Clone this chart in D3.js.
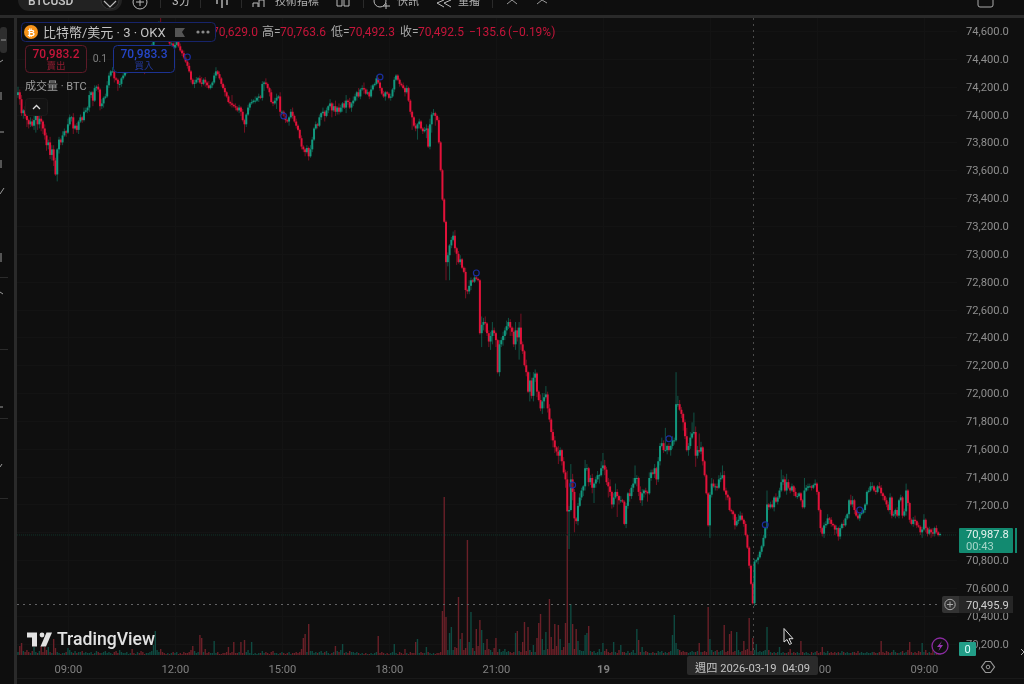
<!DOCTYPE html>
<html lang="zh-Hant"><head><meta charset="utf-8">
<script src="https://cdnjs.cloudflare.com/ajax/libs/d3/7.8.5/d3.min.js"></script>
<style>
html,body{margin:0;padding:0;background:#0f0f0f;overflow:hidden}
svg{display:block;filter:blur(.35px)}
text{font-family:Roboto,"Noto Sans CJK TC",sans-serif}
</style></head><body>
<svg id="c" width="1024" height="684"></svg>
<script>
// Three-minute closes, BTC / USD (one row = twenty bars)
const closes=[
74160,74110,74010,74030,73990,73960,73930,73950,73920,73960,74000,73930,73970,73950,73900,73850,73780,73800,73710,73750,
73670,73570,73750,73820,73800,73850,73880,73870,73930,73980,73980,73900,73920,73890,73950,73980,73960,74020,74030,74050,
74140,74160,74100,74190,74200,74180,74060,74080,74120,74130,74210,74280,74310,74310,74260,74250,74220,74220,74260,74280,
74310,74360,74410,74430,74390,74380,74420,74460,74410,74380,74340,74310,74360,74410,74460,74500,74540,74550,74610,74640,
74620,74590,74560,74540,74550,74510,74510,74480,74500,74520,74490,74460,74440,74410,74380,74350,74310,74250,74220,74230,
74250,74260,74230,74220,74250,74230,74210,74190,74210,74230,74280,74310,74290,74260,74220,74190,74160,74130,74090,74080,
74070,74060,74050,74030,74050,74020,73960,73930,74000,74050,74080,74090,74100,74100,74120,74130,74120,74220,74230,74220,
74190,74160,74090,74080,74100,74120,74130,74020,74020,73990,73960,73950,73980,74020,73990,73950,73920,73890,73830,73770,
73750,73730,73760,73700,73750,73820,73900,73930,73920,73980,74010,74020,73990,74030,74060,74080,74030,74060,74020,74050,
74020,74050,74080,74050,74100,74090,74050,74080,74100,74130,74160,74130,74180,74190,74180,74150,74160,74130,74180,74210,
74220,74260,74230,74190,74150,74130,74160,74150,74120,74130,74180,74250,74280,74250,74220,74210,74190,74160,74190,74100,
74020,73980,73920,73900,73930,73950,73900,73880,73890,73900,73770,73930,74000,74010,73990,73960,73800,73600,73390,73230,
72940,72990,73060,73100,73130,73040,73000,72940,72960,72900,72870,72740,72730,72770,72810,72800,72830,72820,72810,72430,
72490,72510,72500,72430,72370,72410,72450,72430,72380,72150,72350,72380,72410,72450,72480,72510,72470,72440,72350,72450,
72400,72470,72350,72300,72200,72150,72010,72090,71980,72110,72140,72010,71950,71890,71940,71970,71990,71890,71810,71720,
71660,71610,71580,71550,71590,71510,71430,71380,71150,71160,71380,71290,71100,71080,71190,71250,71300,71330,71460,71460,
71360,71390,71320,71350,71380,71410,71410,71460,71480,71450,71360,71330,71290,71200,71250,71290,71260,71230,71230,71220,
71060,71190,71280,71260,71320,71350,71390,71390,71290,71230,71280,71300,71290,71280,71390,71430,71420,71460,71380,71510,
71620,71640,71590,71590,71620,71590,71620,71660,71660,71920,71920,71880,71850,71790,71690,71590,71620,71680,71710,71720,
71550,71590,71580,71610,71510,71410,71280,71050,71270,71350,71330,71330,71320,71380,71390,71410,71300,71270,71250,71160,
71150,71130,71050,71080,71090,71120,71090,71060,70980,70890,70760,70630,70490,70790,70800,70820,70860,70900,70960,71030,
71200,71180,71200,71180,71250,71220,71250,71300,71360,71380,71300,71360,71320,71300,71330,71290,71260,71260,71280,71230,
71180,71300,71320,71330,71330,71320,71340,71350,71290,71160,71030,70990,71050,71060,71100,71090,71060,71050,71020,71030,
70970,71030,71060,71050,71100,71130,71230,71200,71230,71160,71120,71100,71130,71140,71160,71200,71290,71300,71330,71330,
71300,71290,71330,71320,71280,71260,71230,71200,71160,71250,71120,71130,71160,71120,71230,71250,71120,71150,71300,71210,
71090,71060,71090,71080,71050,71040,71000,71020,71090,71030,70990,71020,71000,70990,71030,71000,70980,70987.8];
const firstOpen=74140;
// Wick length above the candle body, USD
const highWicks=[
40,20,30,10,30,20,10,30,20,60,30,20,40,30,10,30,20,20,40,30,
30,20,10,20,10,30,20,10,40,20,10,30,10,20,10,20,10,30,20,10,
30,10,10,20,10,20,10,30,10,20,30,20,10,30,10,10,10,20,10,20,
20,10,30,20,10,20,30,20,10,20,10,20,30,10,20,10,20,30,10,30,
60,20,10,20,10,30,20,10,20,10,10,20,10,20,10,10,20,10,10,20,
20,10,20,40,10,20,10,30,10,10,20,30,10,20,10,10,20,10,10,10,
60,10,20,10,20,10,20,10,10,20,10,20,10,30,10,20,10,20,10,30,
10,10,20,10,20,30,10,30,10,10,20,10,10,20,30,10,20,10,10,20,
10,10,20,10,30,20,10,20,10,20,10,30,10,20,10,30,10,20,40,10,
30,20,10,20,40,10,30,10,30,20,10,30,10,20,40,10,20,10,30,10,
10,20,10,10,10,20,10,10,10,20,10,20,10,10,10,10,20,10,20,10,
10,10,10,20,10,20,10,10,20,30,20,40,20,30,10,10,20,10,10,10,
10,20,10,20,30,40,10,20,30,10,10,30,10,40,20,10,10,10,10,10,
60,30,40,10,20,30,60,20,10,10,30,20,30,20,40,30,20,10,30,60,
20,40,100,20,10,40,10,60,20,40,30,10,10,40,60,30,60,20,30,10,
20,30,10,40,20,10,30,20,60,30,110,40,20,10,20,30,20,10,60,30,
10,20,30,10,20,30,10,50,90,40,20,30,50,10,30,60,20,10,30,10,
10,20,10,30,20,40,90,20,10,40,30,10,20,10,40,20,20,30,10,30,
20,40,20,160,10,20,10,30,20,230,60,30,20,10,20,60,20,40,80,140,
40,30,120,40,10,10,10,10,20,40,30,20,20,30,40,70,30,20,30,10,
10,10,10,30,40,30,20,10,20,10,10,10,10,20,10,20,10,10,20,10,
100,10,20,30,10,30,10,20,90,30,20,60,20,10,20,10,30,20,10,10,
10,90,20,20,20,10,10,30,10,10,10,10,20,20,30,10,20,10,10,20,
10,20,10,30,20,10,10,40,30,10,10,20,10,20,10,10,10,20,30,30,
10,20,10,30,20,10,10,20,20,30,10,20,10,20,10,20,10,20,50,10,
10,10,20,30,10,20,10,20,40,10,10,20,10,30,10,20,10,10];
// Wick length below the candle body, USD
const lowWicks=[
20,40,20,40,20,50,30,20,10,30,90,40,30,70,40,30,40,30,30,40,
40,10,50,30,20,20,10,30,10,10,30,40,10,20,30,10,20,10,10,20,
30,20,40,10,20,20,30,20,30,10,10,20,10,10,30,10,50,30,20,10,
10,20,10,30,20,10,20,10,30,20,10,20,10,10,20,10,10,20,10,10,
10,20,10,20,10,20,10,30,10,20,10,10,20,10,10,20,10,20,10,30,
10,20,10,20,10,30,20,10,10,20,10,20,10,10,20,10,30,10,10,20,
20,10,20,10,20,30,10,60,20,10,20,10,10,20,10,30,10,20,50,10,
10,30,10,20,10,60,10,30,20,10,20,10,30,10,20,10,20,10,10,20,
20,30,10,30,10,20,10,10,20,10,20,10,40,10,20,10,50,10,30,20,
20,10,30,10,40,20,10,30,20,10,30,10,20,10,30,10,10,20,10,10,
10,10,10,20,10,10,30,10,10,20,10,20,10,10,20,10,10,30,10,10,
20,90,10,20,80,30,10,20,10,60,10,20,60,10,70,10,10,10,10,10,
130,30,180,20,10,30,80,10,20,10,10,60,20,20,30,10,10,10,10,10,
100,40,60,20,40,60,60,20,50,10,30,20,40,30,30,20,60,30,20,40,
30,160,40,20,10,30,10,70,20,40,30,40,10,20,40,50,10,30,20,60,
50,40,30,60,40,30,10,60,165,270,10,60,100,20,30,10,20,40,30,20,
30,20,40,110,30,20,60,10,20,40,20,80,30,30,20,10,150,30,20,10,
10,30,20,40,20,30,10,60,30,20,40,30,20,60,10,20,10,30,40,20,
30,10,20,10,30,10,40,20,30,10,20,10,30,60,20,10,40,20,10,10,
80,20,10,20,30,10,10,10,90,20,10,30,20,10,20,10,10,40,20,10,
20,40,30,10,20,10,10,20,10,10,20,10,10,20,10,30,10,20,10,10,
10,20,10,10,30,10,20,10,10,20,10,30,10,20,10,30,10,20,10,10,
10,10,10,20,10,20,10,10,20,10,30,20,30,20,10,30,20,10,40,30,
30,20,10,20,10,10,30,10,20,30,10,10,20,10,10,20,10,10,10,20,
10,20,10,10,20,30,10,20,10,30,20,10,30,10,20,10,20,10,30,20,
20,10,20,30,20,10,20,40,10,30,20,10,40,20,20,10,10,10];
// Volume per bar, BTC
const volumes=[
3,9,12,4,3,5,3,2,4,8,3,2,4,9,3,8,5,8,3,2,
16,7,3,2,1,2,2,3,7,5,3,2,4,2,3,3,4,2,3,2,
2,3,1,2,4,3,2,2,3,4,2,3,2,1,3,4,2,5,3,2,
2,3,1,2,6,2,1,3,2,4,3,1,2,2,3,4,10,24,5,3,
6,3,2,1,2,1,2,3,2,3,1,2,1,3,2,2,3,5,9,4,
2,3,20,17,3,6,2,3,2,2,14,2,3,1,1,2,2,3,8,2,
3,13,2,2,3,13,2,15,3,5,2,13,1,2,1,2,2,4,2,3,
2,1,3,4,2,2,1,2,3,2,1,2,3,1,2,2,3,2,3,6,
17,21,3,31,4,4,2,3,2,3,4,2,3,4,2,1,2,3,9,4,
3,5,11,2,3,2,4,3,3,2,3,2,1,2,1,2,1,1,2,1,
2,3,19,2,3,2,1,2,1,2,3,11,2,1,3,2,1,6,2,1,
3,2,2,13,16,2,3,2,2,8,3,2,1,2,1,2,2,3,44,158,
38,5,22,28,5,8,7,58,16,22,5,7,115,13,43,7,4,26,9,35,
25,12,5,16,6,5,3,7,17,3,6,3,4,6,3,4,3,2,3,22,
24,4,3,13,33,4,28,5,3,10,3,17,32,41,16,5,23,6,56,18,
6,31,9,30,16,5,8,32,120,12,51,31,6,26,14,5,4,4,20,22,
29,4,3,4,2,3,6,3,12,4,6,3,2,3,13,3,2,5,10,3,
3,2,4,2,3,5,2,26,15,3,8,3,4,3,2,2,3,2,2,4,
3,4,2,3,2,3,4,20,40,12,6,5,3,4,3,3,2,3,4,3,
3,4,12,3,3,4,3,48,16,5,3,4,5,3,4,5,30,3,4,21,
24,3,4,23,5,3,4,14,5,6,37,4,17,5,11,3,4,3,4,5,
28,5,3,2,3,2,3,8,2,3,2,2,3,6,2,3,2,3,2,14,
3,2,3,2,1,3,2,3,4,2,3,8,3,2,4,2,3,2,3,2,
3,2,4,3,2,3,2,2,3,3,2,4,2,3,2,2,3,2,2,3,
3,2,2,3,14,3,2,4,3,2,3,5,3,2,2,3,4,2,3,5,
13,3,2,3,2,4,3,12,3,5,2,3,2,5,3,2,3,1];
// Marker circles: bar index and price
const markerBars=[95,149,203,257,311,365,419,472];
const markerPrices=[74414,73990,74270,72863,71340,71671,71054,71161];
// Axis labels
const priceTicks=[74600,74400,74200,74000,73800,73600,73400,73200,73000,72800,72600,72400,72200,72000,71800,71600,71400,71200,71000,70800,70600,70400,70200];
const timeTickBars=[28,88,148,208,268,328,388,448,508];
const timeTickLabels=["09:00","12:00","15:00","18:00","21:00","19","03:00","06:00","09:00"];
const lastPrice=70987.8, crossPrice=70486, crossBar=412;

const BG="#0f0f0f",UP="#12987e",DOWN="#e2123a",VUP="#0f4a41",VDOWN="#6a2028";
const svg=d3.select("#c");
const x=d3.scaleLinear().domain([0,517]).range([18,940]);
const y=d3.scaleLinear().domain([70200,74600]).range([643.7,31]);
const yVol=d3.scaleLinear().domain([0,158]).range([655,497]);
const bars=closes.map((c,i)=>{const o=i?closes[i-1]:firstOpen;return{i,o,c,h:Math.max(o,c)+highWicks[i],l:Math.min(o,c)-lowWicks[i],v:volumes[i],up:c>=o}});

svg.append("rect").attr("width",1024).attr("height",684).attr("fill",BG);
const defs=svg.append("defs");
defs.append("clipPath").attr("id","pane").append("rect").attr("x",17).attr("y",18).attr("width",940).attr("height",637);

// grid
const grid=svg.append("g").attr("stroke","#131313").attr("stroke-width",1);
grid.selectAll(".h").data(priceTicks).join("line").attr("x1",17).attr("x2",957).attr("y1",d=>Math.round(y(d))+.5).attr("y2",d=>Math.round(y(d))+.5);
grid.selectAll(".v").data(timeTickBars).join("line").attr("y1",18).attr("y2",655).attr("x1",d=>Math.round(x(d))+.5).attr("x2",d=>Math.round(x(d))+.5);

const pane=svg.append("g").attr("clip-path","url(#pane)");
// volume
pane.append("g").selectAll("rect").data(bars).join("rect")
 .attr("x",d=>x(d.i)-.7).attr("width",1.4).attr("y",d=>yVol(d.v)).attr("height",d=>655-yVol(d.v))
 .attr("fill",d=>d.up?VUP:VDOWN);
// last price line
pane.append("line").attr("x1",17).attr("x2",957).attr("y1",y(lastPrice)+1).attr("y2",y(lastPrice)+1).attr("stroke","#10352b").attr("stroke-dasharray","1 1");
// wicks
pane.append("g").selectAll("line").data(bars).join("line")
 .attr("x1",d=>x(d.i)).attr("x2",d=>x(d.i)).attr("y1",d=>y(d.h)).attr("y2",d=>y(d.l))
 .attr("stroke",d=>d.up?UP:DOWN).attr("stroke-width",.9).attr("stroke-opacity",.55);
// bodies
pane.append("g").selectAll("rect").data(bars).join("rect")
 .attr("x",d=>x(d.i)-1).attr("width",2)
 .attr("y",d=>y(Math.max(d.o,d.c))).attr("height",d=>Math.max(1,Math.abs(y(d.o)-y(d.c))))
 .attr("fill",d=>d.up?UP:DOWN);
// markers
pane.append("g").selectAll("circle").data(markerBars).join("circle")
 .attr("cx",d=>x(d)).attr("cy",(d,i)=>y(markerPrices[i])).attr("r",2.9).attr("fill",BG).attr("fill-opacity",.4).attr("stroke","#1b2f9e").attr("stroke-width",1.2);

// crosshair
const cg=svg.append("g").attr("stroke","#626264").attr("stroke-dasharray","2 4").attr("stroke-width",1);
cg.append("line").attr("x1",17).attr("x2",941).attr("y1",Math.round(y(crossPrice))+.5).attr("y2",Math.round(y(crossPrice))+.5);
cg.append("line").attr("y1",18).attr("y2",655).attr("x1",Math.round(x(crossBar))+.5).attr("x2",Math.round(x(crossBar))+.5).attr("stroke","#4c4c4c");

// watermark logo
const logo=svg.append("g").attr("fill","#e2e2e2");
logo.append("path").attr("d","M27 632.5H37V646.5H32V637.5H27Z");
logo.append("circle").attr("cx",42).attr("cy",635).attr("r",2.4);
logo.append("path").attr("d","M46.5 632.5H52L46 646.5H40.5Z");
logo.append("text").attr("x",57).attr("y",645).attr("font-size",17.6).attr("font-weight",500).text("TradingView");

// right axis
const ax=svg.append("g").attr("transform","translate(957,0)").call(d3.axisRight(y).tickValues(priceTicks).tickSize(0).tickPadding(9).tickFormat(d3.format(",.1f")));
ax.select(".domain").remove();
ax.selectAll("text").attr("fill","#8e8e8e").attr("font-size",11.2).attr("font-family","Roboto,sans-serif");
// bottom axis
const bx=svg.append("g").attr("transform","translate(0,662)").call(d3.axisBottom(x).tickValues(timeTickBars).tickSize(0).tickPadding(3).tickFormat((d,i)=>timeTickLabels[i]));
bx.select(".domain").remove();
bx.selectAll("text").attr("fill","#808080").attr("font-size",11.2).attr("font-family","Roboto,sans-serif").attr("font-weight",(d,i)=>timeTickLabels[i]==="19"?700:400);

// frames around the pane
svg.append("rect").attr("x",0).attr("y",0).attr("width",1024).attr("height",15).attr("fill","#0e0e0e");
svg.append("rect").attr("x",0).attr("y",15).attr("width",1024).attr("height",3).attr("fill","#2a2a2a");
svg.append("rect").attr("x",0).attr("y",18).attr("width",14).attr("height",666).attr("fill","#0e0e0e");
svg.append("rect").attr("x",14).attr("y",18).attr("width",3).attr("height",666).attr("fill","#2a2a2a");
svg.append("rect").attr("x",17).attr("y",678).attr("width",1007).attr("height",1).attr("fill","#191919");
svg.append("rect").attr("x",0).attr("y",27).attr("width",7).attr("height",26).attr("rx",3).attr("fill","#2e2e2e");

// top toolbar
const tb=svg.append("g");
tb.append("rect").attr("x",18).attr("y",-14).attr("width",104).attr("height",25).attr("rx",11).attr("fill","#222");
tb.append("text").attr("x",28).attr("y",4.5).attr("font-size",12).attr("font-weight",500).attr("fill","#c8c8c8").text("BTCUSD");
tb.append("circle").attr("cx",110).attr("cy",0).attr("r",9).attr("fill","#151515").attr("stroke","#333");
tb.append("path").attr("d","M104 1L110 7L116 1").attr("fill","none").attr("stroke","#bbb").attr("stroke-width",1.2);
tb.append("circle").attr("cx",140).attr("cy",2).attr("r",7).attr("fill","none").attr("stroke","#bbb");
tb.append("path").attr("d","M140 -2V6M136 2H144").attr("stroke","#bbb");
tb.append("text").attr("x",172).attr("y",5).attr("font-size",12).attr("fill","#b8b8b8").text("3分");
tb.append("path").attr("d","M217 0V4M222 0V8M227 0V5").attr("stroke","#bbb").attr("stroke-width",1.4);
tb.append("path").attr("d","M253 7V3H258V7M259 7V0H264V7").attr("stroke","#bbb").attr("fill","none");
tb.append("text").attr("x",275).attr("y",5).attr("font-size",11).attr("fill","#b0b0b0").text("技術指標");
tb.append("path").attr("d","M337 0V6H342V0M344 0V6H349V0").attr("stroke","#bbb").attr("fill","none");
tb.append("circle").attr("cx",380).attr("cy",1).attr("r",6).attr("fill","none").attr("stroke","#bbb");
tb.append("path").attr("d","M386 3V9M383 6H390").attr("stroke","#bbb");
tb.append("text").attr("x",397).attr("y",5).attr("font-size",11).attr("fill","#b0b0b0").text("快訊");
tb.append("path").attr("d","M444 0L437 3L444 7M451 0L444 3L451 7").attr("stroke","#bbb").attr("fill","none");
tb.append("text").attr("x",458).attr("y",5).attr("font-size",11).attr("fill","#b0b0b0").text("重播");
["M507 4L512 0L517 4","M537 4L542 0L547 3"].forEach(d=>tb.append("path").attr("d",d).attr("stroke","#999").attr("fill","none"));
tb.selectAll("line.sep").data([160,200,241,363,492]).join("line").attr("x1",d=>d+.5).attr("x2",d=>d+.5).attr("y1",0).attr("y2",8).attr("stroke","#2a2a2a");
tb.append("rect").attr("x",978).attr("y",-6).attr("width",15).attr("height",13).attr("rx",2).attr("fill","none").attr("stroke","#aaa");
// left toolbar fragments
const lt=svg.append("g").attr("stroke","#9a9a9a").attr("fill","none");
["M1 40H6","M0 62L3 60","M1 92V100","M0 132H4","M1 160V168","M0 194L4 188","M1 253V262","M0 292L3 294","M0 407H3","M0 467L2 464"].forEach(d=>lt.append("path").attr("d",d));
lt.selectAll("line.s").data([277,349,418,498]).join("line").attr("x1",0).attr("x2",8).attr("y1",d=>d+.5).attr("y2",d=>d+.5).attr("stroke","#2b2b2b");

// OHLC legend
const red="#c5153a";
const lg=svg.append("g").attr("font-size",12);
[["開=",194,"#aaa"],["70,629.0",212,red],["高=",262,"#aaa"],["70,763.6",280,red],["低=",331,"#aaa"],["70,492.3",349,red],["收=",400,"#aaa"],["70,492.5",418,red],["−135.6",469,red],["(−0.19%)",508,red]]
 .forEach(([t,px,col])=>lg.append("text").attr("x",px).attr("y",36).attr("fill",col).text(t));
svg.append("rect").attr("x",21.5).attr("y",22.5).attr("width",194).attr("height",19).attr("rx",4).attr("fill",BG).attr("stroke","#17246a");
svg.append("circle").attr("cx",31).attr("cy",32).attr("r",7).attr("fill","#f7931a");
svg.append("text").attr("x",31).attr("y",35.5).attr("text-anchor","middle").attr("font-size",9.5).attr("font-weight",700).attr("fill","#fff").text("₿");
svg.append("text").attr("x",43).attr("y",37).attr("font-size",13).attr("fill","#c4c4c4").text("比特幣/美元 · 3 · OKX");
svg.append("path").attr("d","M175 28H185L182 32L185 37H175Z").attr("fill","#555");
svg.selectAll("circle.dot").data([198,203,208]).join("circle").attr("cx",d=>d).attr("cy",32).attr("r",1.6).attr("fill","#8a8a8a");
// sell / buy
svg.append("rect").attr("x",25.5).attr("y",45.5).attr("width",61).attr("height",27).attr("rx",4).attr("fill",BG).attr("stroke","#5e1a28");
svg.append("text").attr("x",56).attr("y",58).attr("text-anchor","middle").attr("font-size",12).attr("font-weight",500).attr("fill","#c5153a").text("70,983.2");
svg.append("text").attr("x",56).attr("y",69).attr("text-anchor","middle").attr("font-size",9.5).attr("fill","#8e1c30").text("賣出");
svg.append("text").attr("x",100).attr("y",62).attr("text-anchor","middle").attr("font-size",10.5).attr("fill","#7e7e7e").text("0.1");
svg.append("rect").attr("x",113.5).attr("y",45.5).attr("width",61).attr("height",27).attr("rx",4).attr("fill",BG).attr("stroke","#1c3292");
svg.append("text").attr("x",144).attr("y",58).attr("text-anchor","middle").attr("font-size",12).attr("font-weight",500).attr("fill","#2546c8").text("70,983.3");
svg.append("text").attr("x",144).attr("y",69).attr("text-anchor","middle").attr("font-size",9.5).attr("fill","#23399c").text("買入");
svg.append("text").attr("x",25).attr("y",90).attr("font-size",11).attr("fill","#9e9e9e").text("成交量 · BTC");
svg.append("rect").attr("x",25.5).attr("y",98.5).attr("width",22).attr("height",17).attr("rx",3).attr("fill","#131313").attr("stroke","#1c1c1c");
svg.append("path").attr("d","M33 109L36.5 105.500L40 109").attr("fill","none").attr("stroke","#ddd").attr("stroke-width",1.3);

// last price tag
svg.append("rect").attr("x",959).attr("y",528).attr("width",54).attr("height",25).attr("rx",1).attr("fill","#128a70");
svg.append("rect").attr("x",1015).attr("y",528).attr("width",2).attr("height",25).attr("fill","#128a70");
svg.append("text").attr("x",966).attr("y",538).attr("font-size",11.2).attr("fill","#e4f2ee").text("70,987.8");
svg.append("text").attr("x",966).attr("y",550).attr("font-size",11.2).attr("fill","#a5d6c9").text("00:43");
// crosshair price tag
svg.append("rect").attr("x",942).attr("y",596).attr("width",71).attr("height",17).attr("rx",2).attr("fill","#333");
svg.append("rect").attr("x",959).attr("y",596).attr("width",54).attr("height",17).attr("fill","#262626");
svg.append("circle").attr("cx",950).attr("cy",604.5).attr("r",5.2).attr("fill","none").attr("stroke","#aaa");
svg.append("path").attr("d","M950 601.5V607.500M947 604.5H953").attr("stroke","#aaa");
svg.append("text").attr("x",966).attr("y",608.5).attr("font-size",11.2).attr("fill","#cfcfcf").text("70,495.9");
// zero volume tag, bolt
svg.append("rect").attr("x",959).attr("y",642).attr("width",17).attr("height",14).attr("rx",1).attr("fill","#229e88");
svg.append("text").attr("x",967.5).attr("y",653).attr("text-anchor","middle").attr("font-size",11).attr("fill","#dff").text("0");
svg.append("circle").attr("cx",940).attr("cy",646).attr("r",8).attr("fill",BG).attr("stroke","#8a2ba0").attr("stroke-width",1.3);
svg.append("path").attr("d","M942 641L937 647H940L938.500 651L943 645H940Z").attr("fill","#9a36b4");
// date tag
svg.append("rect").attr("x",687).attr("y",656).attr("width",131).attr("height",19).attr("rx",2).attr("fill","#2a2a2a");
svg.append("text").attr("x",695).attr("y",671.5).attr("font-size",11.2).attr("fill","#c4c4c4").attr("xml:space","preserve").text("週四 2026-03-19  04:09");
// settings
svg.append("path").attr("d","M985.500 661.500H990.500L994.500 667L990.500 672.500H985.500L981.500 667Z").attr("fill","none").attr("stroke","#999").attr("stroke-width",1.2);
svg.append("circle").attr("cx",988).attr("cy",667).attr("r",1.8).attr("fill","none").attr("stroke","#999");
svg.append("path").attr("d","M1021 649L1024 652L1021 655").attr("fill","none").attr("stroke","#aaa");
// mouse cursor
svg.append("path").attr("d","M784 628.500V642L787 639.500L789.500 644.500L791.500 643.500L789 638.700H793Z").attr("fill","#111").attr("stroke","#e0e0e0").attr("stroke-width",1);
</script></body></html>
